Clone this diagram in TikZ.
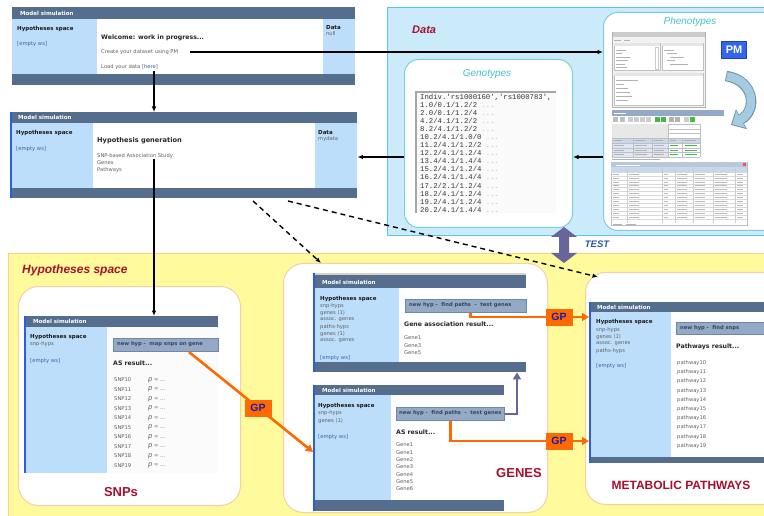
\documentclass[tikz,border=0pt]{standalone}
\usepackage{fontspec}
\setmainfont{DejaVu Sans}
\newfontfamily\arialf{Liberation Sans}
\newfontfamily\monof{Liberation Mono}
\usetikzlibrary{arrows.meta,calc}
\definecolor{titlec}{HTML}{566E8E}
\definecolor{panelc}{HTML}{BDDEFB}
\definecolor{btnc}{HTML}{93A9C6}
\definecolor{btnb}{HTML}{6F88A8}
\definecolor{btntext}{HTML}{34465F}
\definecolor{linkc}{HTML}{3A62A8}
\definecolor{darkred}{HTML}{A8102E}
\definecolor{datafill}{HTML}{CBEBFA}
\definecolor{databorder}{HTML}{5CC6E6}
\definecolor{genob}{HTML}{80CFD8}
\definecolor{tealc}{HTML}{45C2C8}
\definecolor{yellowc}{HTML}{FFFB9C}
\definecolor{yellowb}{HTML}{FFD08A}
\definecolor{boxb}{HTML}{F6CFA8}
\definecolor{orangec}{HTML}{FF6A00}
\definecolor{gpblue}{HTML}{1A1AB0}
\definecolor{purplec}{HTML}{666699}
\definecolor{testc}{HTML}{2A58A8}
\definecolor{stripe}{HTML}{2A5EE0}
\definecolor{pmc}{HTML}{3366EE}
\definecolor{beigec}{HTML}{D8D2C4}
\definecolor{arrout}{HTML}{6F8FA5}
\definecolor{arrin}{HTML}{A4CCE0}
\definecolor{tabhead}{HTML}{C8D8EC}
\definecolor{tabcell}{HTML}{DDE6F2}
\definecolor{drilltitle}{HTML}{B8C8DC}
\newcommand\sq{\textquotesingle}
\tikzset{
 conn/.style={draw=black, line width=1.3pt, -{Latex[length=5.5pt,width=4.5pt]}},
 dconn/.style={draw=black, line width=1.4pt, dash pattern=on 5pt off 4pt, -{Latex[length=5.5pt,width=4.5pt]}},
 oconn/.style={draw=orangec, line width=2.6pt, -{Triangle[length=7pt,width=8pt]}},
 pconn/.style={draw=purplec, line width=2.4pt, -{Triangle[length=7pt,width=8pt]}},
 box/.style={fill=white, draw=boxb, line width=1pt, rounded corners=20pt, anchor=north west, inner sep=0},
 gbox/.style={fill=white, draw=genob, line width=1pt, rounded corners=14pt, anchor=north west, inner sep=0},
 wframe/.style={fill=white, draw=none, anchor=north west, inner sep=0},
 wtitle/.style={text=white, font=\fontsize{5.5}{6}\selectfont\bfseries, anchor=west, inner sep=0},
 wbold/.style={text=black!90, font=\fontsize{5.5}{6}\selectfont\bfseries, anchor=west, inner sep=0},
 wtxt/.style={text=black!62, font=\fontsize{5.2}{6}\selectfont, anchor=west, inner sep=0},
 wlink/.style={text=linkc, font=\fontsize{5.3}{6}\selectfont, anchor=west, inner sep=0},
 wres/.style={text=black!85, font=\fontsize{6.2}{7}\selectfont\bfseries, anchor=west, inner sep=0},
 btn/.style={fill=btnc, draw=btnb, line width=0.8pt, anchor=north west, inner sep=0},
 btntxt/.style={text=btntext, font=\fontsize{5.2}{6}\selectfont\bfseries, anchor=west, inner sep=0},
 gp/.style={fill=orangec, text=gpblue, font=\arialf\bfseries\fontsize{10.5}{11}\selectfont, minimum width=27pt, minimum height=17pt, inner sep=0},
 bigred/.style={text=darkred, font=\arialf\bfseries\fontsize{13}{14}\selectfont, inner sep=0},
 seclbl/.style={text=darkred, font=\arialf\bfseries\itshape\fontsize{12}{13}\selectfont, inner sep=0, anchor=west},
 teallbl/.style={text=tealc, font=\arialf\itshape\fontsize{10}{12}\selectfont, inner sep=0},
 ph/.style={draw=gray!60, line width=0.5pt},
}
\begin{document}
\begin{tikzpicture}[x=1pt,y=-1pt]
\useasboundingbox (0,0) rectangle (764,516);
\fill[white] (0,0) rectangle (764,516);

% ================= panels =================
\node[fill=yellowc, draw=yellowb, line width=1pt, anchor=north west, minimum width=770pt, minimum height=270pt, inner sep=0] (hyp) at (8,253) {};
\node[seclbl] (hyplbl) at (22,270) {Hypotheses space};
\node[fill=datafill, draw=databorder, line width=1pt, anchor=north west, minimum width=385pt, minimum height=228pt, inner sep=0] (datap) at (387,7) {};
\node[seclbl, font=\arialf\bfseries\itshape\fontsize{11}{13}\selectfont] (datalbl) at (412,30) {Data};

% ================= window 1 =================
\node[wframe, minimum width=343pt, minimum height=78pt] (w1) at (12,7) {};
\fill[titlec] (12,7) rectangle (355,19);
\fill[panelc] (12,19) rectangle (97,74);
\fill[panelc] (323,19) rectangle (355,74);
\fill[titlec] (12,74) rectangle (355,85);
\node[wtitle] (w1tt) at (20,13) {Model simulation};
\node[wbold] (w1hs) at (17,29) {Hypotheses space};
\node[wlink] (w1ew) at (17,44) {[empty ws]};
\node[wres] (w1wel) at (101,38) {Welcome: work in progress...};
\node[wtxt] (w1cr) at (101,52) {Create your dataset using PM};
\node[wtxt] (w1ld) at (101,67) {Load your data \textcolor{linkc}{[here]}};
\node[wbold] (w1d) at (326,28) {Data};
\node[wtxt] (w1null) at (326,34) {null};
\coordinate (herec) at (154,71);

% ================= window 2 =================
\node[wframe, minimum width=347pt, minimum height=86pt] (w2) at (10,112) {};
\fill[titlec] (10,112) rectangle (357,123);
\fill[panelc] (10,123) rectangle (93,188);
\fill[panelc] (315,123) rectangle (357,188);
\fill[titlec] (10,188) rectangle (357,198);
\fill[stripe] (10,112) rectangle (11.5,198);
\node[wtitle] (w2tt) at (18,117.5) {Model simulation};
\node[wbold] (w2hs) at (16,133) {Hypotheses space};
\node[wlink] (w2ew) at (16,149) {[empty ws]};
\node[wres, font=\fontsize{6.6}{7}\selectfont\bfseries] (w2hg) at (97,141) {Hypothesis generation};
\node[wtxt] (w2s1) at (97,156) {SNP-based Association Study};
\node[wtxt] (w2s2) at (97,163) {Genes};
\node[wtxt] (w2s3) at (97,170) {Pathways};
\node[wbold] (w2d) at (318,133) {Data};
\node[wtxt] (w2md) at (318,139) {mydata};
\coordinate (snpc) at (154,159);

% ================= Genotypes =================
\node[gbox, minimum width=168pt, minimum height=168pt] (geno) at (404,59) {};
\node[teallbl] (genolbl) at (487,74) {Genotypes};
\fill[gray!4] (416,92) rectangle (556,213);
\draw[gray!70, line width=1.5pt] (416,213) -- (416,92) -- (556,92);
\node[anchor=north west, inner sep=0, font=\monof\fontsize{7.3}{8.05}\selectfont, align=left, text=black!80] (genolist) at (420,94) {%
Indiv.\sq rs1000160\sq,\sq rs1000783\sq,\\
1.0/0.1/1.2/2 \textcolor{gray!50}{...}\\
2.0/0.1/1.2/4 \textcolor{gray!50}{...}\\
4.2/4.1/1.2/2 \textcolor{gray!50}{...}\\
8.2/4.1/1.2/2 \textcolor{gray!50}{...}\\
10.2/4.1/1.0/0 \textcolor{gray!50}{...}\\
11.2/4.1/1.2/2 \textcolor{gray!50}{...}\\
12.2/4.1/1.2/4 \textcolor{gray!50}{...}\\
13.4/4.1/1.4/4 \textcolor{gray!50}{...}\\
15.2/4.1/1.2/4 \textcolor{gray!50}{...}\\
16.2/4.1/1.4/4 \textcolor{gray!50}{...}\\
17.2/2.1/1.2/4 \textcolor{gray!50}{...}\\
18.2/4.1/1.2/4 \textcolor{gray!50}{...}\\
19.2/4.1/1.2/4 \textcolor{gray!50}{...}\\
20.2/4.1/1.4/4 \textcolor{gray!50}{...}};

% ================= Phenotypes =================
\node[gbox, minimum width=175pt, minimum height=218pt] (pheno) at (603,12) {};
\node[teallbl] (phenolbl) at (690,22) {Phenotypes};
\node[fill=pmc, draw=pmc!70!black, line width=0.5pt, text=white, font=\arialf\bfseries\fontsize{11}{12}\selectfont, minimum width=25pt, minimum height=17pt, inner sep=0] (pm) at (734,50) {PM};
% curved arrow
\draw[arrout, line width=10.5pt, -{Triangle[width=22pt,length=12pt]}] (726,76) .. controls (754,80) and (758,110) .. (731,125);
\draw[arrin, line width=8.5pt, shorten >=1.3pt, -{Triangle[width=18.5pt,length=10pt]}] (726.8,76.3) .. controls (754,80) and (758,110) .. (731,125);
% menu window mockup
\draw[gray!60, fill=gray!10, line width=0.4pt] (612,32) rectangle (705,107);
\fill[gray!40] (612.5,32.5) rectangle (704.5,37);
\draw[ph] (614,40) -- (621,40) (624,40) -- (630,40);
\draw[gray!50, fill=white, line width=0.4pt] (614,43) rectangle (660,70);
\draw[gray!50, fill=white, line width=0.4pt] (662,43) rectangle (703,70);
\draw[gray!50, fill=white, line width=0.4pt] (614,73) rectangle (703,105);
\fill[gray!20] (614.3,43.3) rectangle (659.7,46.5);
\fill[gray!20] (662.3,43.3) rectangle (702.7,46.5);
\fill[gray!20] (614.3,73.3) rectangle (702.7,76.5);
\draw[gray!40, line width=0.4pt] (655,47) rectangle (658.5,69);
\foreach \yy/\ll in {50/10,53.5/6,57/14,60.5/12,64/9,67.5/11} \draw[ph] (616,\yy) -- ++(\ll,0);
\foreach \yy/\xo/\ll in {50/664/10,53.5/667/10,57/670/14,60.5/667/8,64/670/18} \draw[ph] (\xo,\yy) -- ++(\ll,0);
\foreach \yy/\ll in {80/22,84/8,88/12,92/14,96/16,100/12} \draw[ph] (616,\yy) -- ++(\ll,0);
% SNP engine
\fill[btnc] (612,110) rectangle (724,116);
\draw[white, line width=0.5pt] (614,113) -- (626,113);
\foreach \xx/\cc in {613/gray!50,620/gray!50,628/gray!40,634/gray!40,640/gray!40,646/gray!40,655/green!40!gray,661/green!40!gray,669/gray!60,675/gray!60,684/gray!40,690/green!50!gray} \fill[\cc] (\xx,117.5) rectangle ++(5,5);
% pivot table
\fill[gray!18] (612,124) rectangle (668,138);
\foreach \yy in {124,128.7,133.3} \draw[gray!50, fill=white, line width=0.3pt] (668,\yy) rectangle (700,\yy+4.7);
\fill[tabhead] (612,138) rectangle (700,143);
\fill[tabcell] (612,143) rectangle (668,157);
\fill[white] (668,143) rectangle (700,157);
\foreach \yy in {138,143,147.7,152.3,157} \draw[gray!50, line width=0.3pt] (612,\yy) -- (700,\yy);
\foreach \xx in {612,633,652,668,682,700} \draw[gray!50, line width=0.3pt] (\xx,138) -- (\xx,157);
\foreach \yy in {145.3,150,154.6} {\draw[ph, line width=0.4pt] (614,\yy) -- ++(10,0) (635,\yy) -- ++(12,0) (654,\yy) -- ++(10,0); \draw[green!50!gray, line width=0.4pt] (670,\yy) -- ++(8,0) (685,\yy) -- ++(12,0);}
\draw[ph, line width=0.4pt] (614,140.5) -- ++(8,0) (635,140.5) -- ++(10,0) (654,140.5) -- ++(9,0) (670,140.5) -- ++(6,0) (684,140.5) -- ++(12,0);
\draw[ph, line width=0.4pt] (612,159.5) -- (660,159.5);
% drill through table
\draw[gray!50, fill=white, line width=0.4pt] (611,162) rectangle (747,225);
\fill[drilltitle] (611.3,162.3) rectangle (746.7,167.5);
\draw[white, line width=0.5pt] (616,165) -- (640,165);
\fill[red!70] (743,163.5) rectangle (745.5,166);
\fill[tabhead] (611.3,167.5) rectangle (746.7,172);
\foreach \r in {0,...,12} \draw[gray!30, line width=0.3pt] (611,{172+3.9*\r}) -- (747,{172+3.9*\r});
\foreach \cx in {627,662,675,693,713,735} \draw[gray!40, line width=0.3pt] (\cx,167.5) -- (\cx,222.7);
\foreach \r in {0,...,11} {\foreach \cx/\cl in {613/6,629/10,664/4,677/10,695/10,715/12,737/6} {\draw[gray!55, line width=0.4pt] (\cx,{174+3.9*\r}) -- ++(\cl,0);}}
\draw[ph, line width=0.4pt] (613,224) -- (622,224) (626,224) -- (636,224);

% ================= TEST =================
\fill[purplec] (564,227) -- (577,237) -- (569,237) -- (569,253) -- (577,253) -- (564,263) -- (551,253) -- (559,253) -- (559,237) -- (551,237) -- cycle;
\node[text=testc, font=\arialf\bfseries\itshape\fontsize{9.5}{10}\selectfont, inner sep=0] (test) at (597,244) {TEST};

% ================= SNPs box =================
\node[box, minimum width=222pt, minimum height=219pt] (snpbox) at (18,286) {};
\node[wframe, minimum width=194pt, minimum height=157pt] (snpw) at (24,316) {};
\fill[titlec] (24,316) rectangle (218,327);
\fill[panelc] (24,327) rectangle (107,473);
\fill[gray!3] (107,327) rectangle (218,473);
\fill[stripe] (24,316) rectangle (25.5,473);
\node[wtitle] (snptt) at (33,321.5) {Model simulation};
\node[wbold] (snphs) at (30,337) {Hypotheses space};
\node[wtxt] (snpsh) at (30,344.5) {snp-hyps};
\node[wlink] (snpew) at (30,361) {[empty ws]};
\node[btn, minimum width=105pt, minimum height=13pt] (snpbtn) at (113,338) {};
\node[btntxt] (snpbt) at (117,344.5) {new hyp -\ \ map snps on gene};
\node[wres] (snpas) at (113,363) {AS result...};
\foreach \i in {0,...,9} {
  \node[wtxt] (snp\i) at (114,{380+9.5*\i}) {SNP1\i};
  \node[wtxt] (pv\i) at (148,{380+9.5*\i}) {{\fontsize{6.8}{6}\selectfont\itshape p} = ...};
}
\node[bigred] (snplbl) at (121,492) {SNPs};

% ================= GENES box =================
\node[box, minimum width=264pt, minimum height=249pt] (genesbox) at (283,263) {};
% top window
\node[wframe, minimum width=213pt, minimum height=99pt] (gtop) at (313,273) {};
\fill[beigec] (313,273) rectangle (526,275.5);
\fill[titlec] (313,275.5) rectangle (526,288);
\fill[panelc] (313,288) rectangle (399,362);
\fill[titlec] (313,362) rectangle (526,372);
\fill[stripe] (313,273) rectangle (314.5,372);
\node[wtitle] (gttt) at (322,282) {Model simulation};
\node[wbold] (gths) at (320,299) {Hypotheses space};
\node[wtxt] (gtl1) at (320,306) {snp-hyps};
\node[wtxt] (gtl2) at (320,313) {genes (1)};
\node[wtxt] (gtl3) at (320,320) {assoc. genes};
\node[wtxt] (gtl4) at (320,327) {paths-hyps};
\node[wtxt] (gtl5) at (320,334) {genes (1)};
\node[wtxt] (gtl6) at (320,341) {assoc. genes};
\node[wlink] (gtew) at (320,358) {[empty ws]};
\node[btn, minimum width=121pt, minimum height=13pt] (gbtn1) at (405,299) {};
\node[btntxt] (gbt1) at (409,305.5) {new hyp -\ \ find paths\ \ -\ \ test genes};
\node[wres] (gtres) at (404,324) {Gene association result...};
\node[wtxt] (gtg1) at (404,338) {Gene1};
\node[wtxt] (gtg3) at (404,345.5) {Gene3};
\node[wtxt] (gtg5) at (404,353) {Gene5};
% bottom window
\node[wframe, minimum width=191pt, minimum height=126pt] (gbot) at (313,385) {};
\fill[titlec] (313,385) rectangle (504,395);
\fill[panelc] (313,395) rectangle (391,500);
\fill[titlec] (313,500) rectangle (504,511);
\fill[stripe] (313,385) rectangle (314.5,511);
\node[wtitle] (gbtt) at (322,390) {Model simulation};
\node[wbold] (gbhs) at (318,406) {Hypotheses space};
\node[wtxt] (gbl1) at (318,413.5) {snp-hyps};
\node[wtxt] (gbl2) at (318,421) {genes (1)};
\node[wlink] (gbew) at (318,437) {[empty ws]};
\node[btn, minimum width=108pt, minimum height=13pt] (gbtn2) at (396,407) {};
\node[btntxt] (gbt2) at (399,413.5) {new hyp -\ \ find paths\ \ -\ \ test genes};
\node[wres] (gbres) at (396,432) {AS result...};
\foreach \g/\i in {1/0,1/1,2/2,3/3,4/4,5/5,6/6} \node[wtxt] (gbg\i) at (396,{445+7.3*\i}) {Gene\g};
\node[bigred] (geneslbl) at (519,473) {GENES};

% ================= METABOLIC PATHWAYS box =================
\node[box, minimum width=200pt, minimum height=232pt] (metabox) at (585,272) {};
\node[wframe, minimum width=185pt, minimum height=161pt] (metaw) at (589,302) {};
\fill[titlec] (589,302) rectangle (774,312);
\fill[panelc] (589,312) rectangle (671,457);
\fill[titlec] (589,457) rectangle (774,463);
\fill[stripe] (589,302) rectangle (590.5,463);
\node[wtitle] (mtt) at (597,307) {Model simulation};
\node[wbold] (mhs) at (596,322) {Hypotheses space};
\node[wtxt] (ml1) at (596,330) {snp-hyps};
\node[wtxt] (ml2) at (596,337) {genes (1)};
\node[wtxt] (ml3) at (596,344) {assoc. genes};
\node[wtxt] (ml4) at (596,351) {paths-hyps};
\node[wlink] (mew) at (596,366) {[empty ws]};
\node[btn, minimum width=95pt, minimum height=12pt] (mbtn) at (676,322) {};
\node[btntxt] (mbt) at (680,328) {new hyp -\ \ find snps};
\node[wres] (mres) at (676,347) {Pathways result...};
\foreach \i in {0,...,9} \node[wtxt] (pw\i) at (677,{363+9.2*\i}) {pathway1\i};
\node[bigred, font=\arialf\bfseries\fontsize{12}{13}\selectfont] (metalbl) at (681,485) {METABOLIC PATHWAYS};

% ================= connectors =================
\coordinate (y157) at (0,157);
\coordinate (ya) at (0,317);
\coordinate (yb) at (0,441);
\coordinate (px) at (517,0);
\draw[conn] ([xshift=12pt]w1cr.east) -- (pheno.west |- w1cr.east);
\draw[conn] (herec) -- (herec |- w2.north);
\draw[conn] (pheno.west |- y157) -- (geno.east |- y157);
\draw[conn] (geno.west |- y157) -- (w2.east |- y157);
\draw[conn] (snpc) -- (snpc |- snpw.north);
\coordinate (d1) at (253,201);
\coordinate (d1e) at (321,263);
\coordinate (d2) at (288,201);
\coordinate (d2e) at (598,277);
\draw[dconn] (d1) -- (d1e);
\draw[dconn] (d2) -- (d2e);
\coordinate (o1) at (189,352);
\coordinate (o1e) at (313,452);
\draw[oconn] (o1) -- (o1e);
\draw[oconn] ([xshift=4.5pt]gbtn1.south) |- (metaw.west |- ya);
\draw[oconn] (gbtn2.south) |- (metaw.west |- yb);
\draw[pconn] (gbtn2.east) -| (px |- gtop.south);
\node[gp] (gp1) at (258,408) {GP};
\node[gp] (gp2) at (559,317) {GP};
\node[gp] (gp3) at (559,441) {GP};
\end{tikzpicture}
\end{document}
